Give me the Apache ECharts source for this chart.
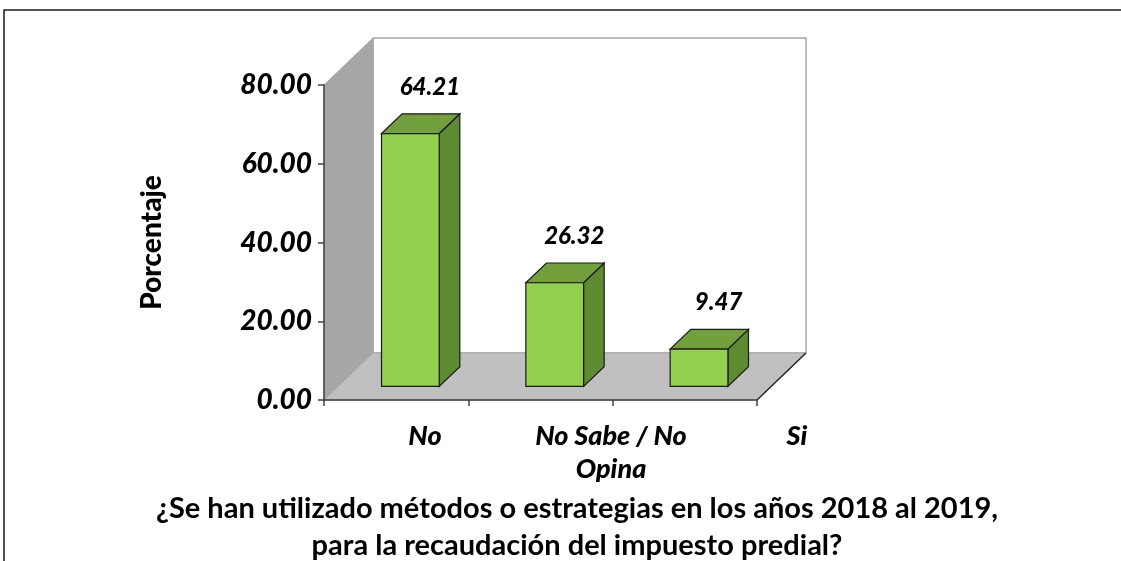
<!DOCTYPE html>
<html>
<head>
<meta charset="utf-8">
<script src="https://cdn.jsdelivr.net/npm/echarts@6/dist/echarts.min.js"></script>
<style>
  html, body { margin: 0; padding: 0; background: #ffffff; }
  #chart { width: 1121px; height: 561px; }
</style>
</head>
<body>
<div id="chart"></div>
<script>
// datos del grafico
var categorias = ['No', 'No Sabe / No\nOpina', 'Si'];
var porcentajes = [64.21, 26.32, 9.47];
var yMin = 0;
var yMax = 80;
var yPaso = 20;
var tituloY = 'Porcentaje';
var titulo = '¿Se han utilizado métodos o estrategias en los años 2018 al 2019,\npara la recaudación del impuesto predial?';

var fuente = 'Lato';
// profundidad 3D (px)
var profX = 49, profY = 47;
var f0 = 0.29, f1 = 0.71;

var myChart = echarts.init(document.getElementById('chart'));

function paredes(params, api) {
  var cs = params.coordSys;
  var x0 = cs.x, x1 = cs.x + cs.width;
  var yt = cs.y, yb = cs.y + cs.height;
  return {
    type: 'group',
    children: [
      { // pared del fondo
        type: 'rect',
        shape: { x: x0 + profX, y: yt - profY, width: cs.width, height: cs.height },
        style: { fill: '#ffffff', stroke: '#a6a6a6', lineWidth: 1.5 }
      },
      { // pared izquierda
        type: 'polygon',
        shape: { points: [[x0, yt], [x0 + profX, yt - profY], [x0 + profX, yb - profY], [x0, yb]] },
        style: { fill: '#a6a6a6', stroke: '#a6a6a6', lineWidth: 1 }
      },
      { // piso
        type: 'polygon',
        shape: { points: [[x0, yb], [x0 + profX, yb - profY], [x1 + profX, yb - profY], [x1, yb]] },
        style: { fill: '#c0c0c0', stroke: '#a6a6a6', lineWidth: 1 }
      },
      {
        type: 'line',
        shape: { x1: x1, y1: yb, x2: x1 + profX, y2: yb - profY },
        style: { stroke: '#262626', lineWidth: 1.5 }
      }
    ]
  };
}

function barra3d(params, api) {
  var idx = api.value(0);
  var val = api.value(1);
  var top = api.coord([idx, val]);
  var base = api.coord([idx, 0]);
  var banda = api.size([1, 0])[0];
  var w = banda * 0.4;
  var ox = f0 * profX, oy = f0 * profY;
  var dx = (f1 - f0) * profX, dy = (f1 - f0) * profY;
  var l = top[0] - w / 2 + ox, r = top[0] + w / 2 + ox;
  var t = top[1] - oy, b = base[1] - oy;
  var borde = { stroke: '#1a1a1a', lineWidth: 1.2 };
  return {
    type: 'group',
    children: [
      {
        type: 'polygon',
        shape: { points: [[r, t], [r + dx, t - dy], [r + dx, b - dy], [r, b]] },
        style: Object.assign({ fill: '#5e8a31' }, borde)
      },
      {
        type: 'polygon',
        shape: { points: [[l, t], [l + dx, t - dy], [r + dx, t - dy], [r, t]] },
        style: Object.assign({ fill: '#72a03c' }, borde)
      },
      {
        type: 'rect',
        shape: { x: l, y: t, width: r - l, height: b - t },
        style: Object.assign({ fill: '#92d050' }, borde)
      },
      {
        type: 'text',
        x: top[0] + f1 * profX - 1,
        y: t - dy - 27,
        style: {
          text: val.toFixed(2),
          font: 'italic 900 24px ' + fuente,
          fill: '#000000',
          align: 'center',
          verticalAlign: 'middle'
        }
      }
    ]
  };
}

myChart.setOption({
  animation: false,
  graphic: [
    {
      type: 'polyline',
      shape: { points: [[4, 561], [4, 10], [1121, 10]] },
      style: { stroke: '#1a1a1a', lineWidth: 1.5, fill: null }
    },
    {
      type: 'text',
      x: 577,
      y: 527,
      style: {
        text: titulo,
        font: 'bold 29px ' + fuente,
        lineHeight: 37,
        fill: '#000000',
        align: 'center',
        verticalAlign: 'middle'
      }
    }
  ],
  grid: [
    { left: 324, top: 85, width: 433, height: 315 },
    { left: 332, top: 400, width: 558, height: 1 }
  ],
  xAxis: [
    {
      type: 'category',
      gridIndex: 0,
      data: categorias,
      z: 5,
      axisLine: { lineStyle: { color: '#404040', width: 1.5 } },
      axisTick: { show: true, length: 6, lineStyle: { color: '#404040', width: 1.5 } },
      axisLabel: { show: false }
    },
    {
      type: 'category',
      gridIndex: 1,
      data: categorias,
      axisLine: { show: false },
      axisTick: { show: false },
      axisLabel: {
        margin: 19,
        interval: 0,
        fontFamily: fuente,
        fontStyle: 'italic',
        fontWeight: 900,
        fontSize: 27,
        lineHeight: 33,
        color: '#000000'
      }
    }
  ],
  yAxis: [
    {
      type: 'value',
      gridIndex: 0,
      min: yMin,
      max: yMax,
      interval: yPaso,
      z: 5,
      name: tituloY,
      nameLocation: 'middle',
      nameGap: 158,
      nameTextStyle: {
        fontFamily: fuente,
        fontWeight: 900,
        fontSize: 28,
        color: '#000000'
      },
      axisLine: { show: true, lineStyle: { color: '#404040', width: 1.5 } },
      axisTick: { show: true, length: 6, lineStyle: { color: '#404040', width: 1.5 } },
      splitLine: { show: false },
      axisLabel: {
        margin: 12,
        formatter: function (v) { return v.toFixed(2); },
        fontFamily: fuente,
        fontStyle: 'italic',
        fontWeight: 900,
        fontSize: 28,
        color: '#000000'
      }
    },
    {
      type: 'value',
      gridIndex: 1,
      show: false
    }
  ],
  series: [
    {
      type: 'custom',
      name: 'paredes',
      xAxisIndex: 0,
      yAxisIndex: 0,
      z: 1,
      silent: true,
      renderItem: paredes,
      data: [[0, 0]]
    },
    {
      type: 'custom',
      name: 'Porcentaje',
      xAxisIndex: 0,
      yAxisIndex: 0,
      z: 2,
      renderItem: barra3d,
      encode: { x: 0, y: 1 },
      data: porcentajes.map(function (v, i) { return [i, v]; })
    }
  ]
});
</script>
</body>
</html>
